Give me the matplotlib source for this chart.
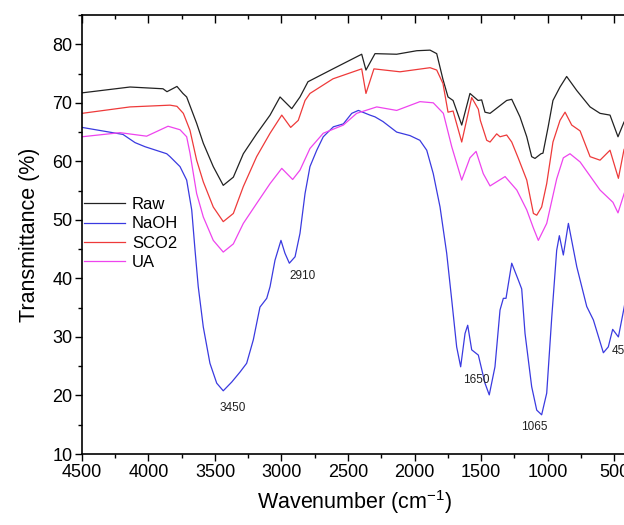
import matplotlib
matplotlib.use('Agg')
from matplotlib import pyplot as plt
from matplotlib.ticker import MultipleLocator

plt.rcParams['font.family'] = ['Liberation Sans', 'DejaVu Sans']
plt.rcParams['mathtext.default'] = 'regular'

# FTIR spectra (wavenumber, transmittance %)
raw_wn = [4500, 4139, 3891, 3861, 3786, 3741, 3713, 3688, 3638, 3588, 3513, 3438,
          3362, 3287, 3187, 3086, 3011, 2923, 2861, 2801, 2613, 2397, 2365, 2297,
          2134, 1983, 1883, 1833, 1786, 1748, 1710, 1645, 1583, 1522, 1495, 1470,
          1432, 1307, 1269, 1207, 1156, 1119, 1094, 1049, 1034, 995, 959, 906, 856,
          780, 680, 605, 530, 470, 425, 400]
raw_t = [71.7, 72.7, 72.4, 71.9, 72.8, 71.6, 71.0, 69.5, 66.5, 63.1, 59.1, 55.9,
         57.3, 61.3, 64.7, 67.9, 71.0, 69.0, 71.0, 73.6, 75.8, 78.3, 75.6, 78.4,
         78.3, 78.9, 79.0, 78.4, 74.0, 71.0, 70.4, 66.2, 71.6, 70.4, 70.5, 68.4,
         68.2, 70.4, 70.6, 67.6, 64.2, 60.8, 60.5, 61.3, 61.4, 65.9, 70.4, 72.7,
         74.5, 72.1, 69.3, 68.2, 67.9, 64.2, 66.7, 67.5]

naoh_wn = [4500, 4192, 4101, 4026, 3863, 3838, 3763, 3713, 3675, 3650, 3626, 3588,
           3538, 3487, 3438, 3374, 3312, 3262, 3212, 3162, 3111, 3086, 3049, 3004,
           2974, 2941, 2898, 2861, 2823, 2786, 2735, 2686, 2610, 2535, 2472, 2422,
           2335, 2297, 2237, 2134, 2034, 1960, 1908, 1859, 1808, 1758, 1720, 1683,
           1653, 1620, 1600, 1570, 1520, 1470, 1438, 1395, 1357, 1332, 1312, 1269,
           1219, 1194, 1169, 1119, 1081, 1044, 1006, 968, 931, 911, 881, 843, 780,
           705, 655, 580, 543, 510, 467, 425, 400]
naoh_t = [65.8, 64.6, 63.2, 62.5, 61.3, 60.8, 59.1, 56.8, 51.7, 44.8, 38.6, 31.7,
          25.5, 22.1, 20.8, 22.3, 24.0, 25.5, 29.5, 35.1, 36.6, 38.6, 43.1, 46.5,
          44.3, 42.6, 43.7, 47.7, 54.5, 59.1, 61.9, 64.2, 65.9, 66.4, 68.2, 68.7,
          67.9, 67.6, 66.8, 65.0, 64.4, 63.6, 61.9, 57.9, 52.2, 44.3, 36.3, 28.3,
          24.9, 30.6, 32.0, 27.8, 26.9, 22.1, 20.1, 24.9, 34.6, 36.6, 36.6, 42.6,
          39.7, 38.2, 30.6, 21.5, 17.5, 16.7, 20.4, 33.4, 44.8, 47.3, 44.0, 49.4,
          42.0, 35.2, 32.9, 27.3, 28.3, 31.3, 30.0, 34.9, 38.0]

sco2_wn = [4500, 4139, 3838, 3786, 3738, 3688, 3638, 3588, 3513, 3438, 3362, 3287,
           3187, 3086, 2998, 2931, 2874, 2823, 2786, 2613, 2397, 2365, 2305, 2109,
           1883, 1833, 1786, 1748, 1710, 1645, 1570, 1520, 1505, 1457, 1432, 1382,
           1357, 1307, 1269, 1219, 1156, 1106, 1081, 1044, 1006, 959, 906, 868, 818,
           755, 680, 605, 530, 467, 425, 400]
sco2_t = [68.2, 69.3, 69.6, 69.4, 68.2, 65.3, 60.2, 56.5, 52.2, 49.7, 51.1, 55.7,
          60.8, 64.8, 67.9, 65.8, 67.0, 70.4, 71.6, 74.1, 75.8, 71.6, 75.8, 75.3,
          76.0, 75.6, 73.3, 68.4, 68.6, 63.3, 70.9, 68.9, 67.0, 63.6, 63.3, 64.7,
          64.2, 64.5, 63.3, 60.5, 56.8, 51.1, 50.8, 52.2, 56.2, 63.3, 67.0, 68.4,
          66.2, 65.2, 60.8, 60.2, 61.9, 57.1, 62.0, 63.0]

ua_wn = [4500, 4214, 4014, 3853, 3763, 3713, 3688, 3638, 3588, 3513, 3438, 3362,
         3287, 3187, 3086, 2998, 2916, 2861, 2786, 2686, 2535, 2435, 2284, 2134,
         1959, 1859, 1783, 1720, 1645, 1583, 1537, 1483, 1432, 1319, 1231, 1156,
         1106, 1069, 1006, 931, 881, 831, 755, 605, 508, 470, 425, 400]
ua_t = [64.2, 64.9, 64.3, 66.0, 65.4, 64.2, 61.4, 54.5, 50.5, 46.5, 44.5, 45.9,
        49.4, 52.8, 56.2, 58.8, 56.9, 58.5, 62.2, 64.8, 66.2, 68.2, 69.3, 68.7,
        70.2, 70.0, 68.2, 62.5, 56.8, 60.6, 61.7, 57.9, 55.8, 57.4, 55.1, 51.7,
        48.6, 46.5, 49.4, 57.0, 60.6, 61.3, 59.9, 55.1, 53.0, 51.2, 54.4, 56.0]

peak_labels = ['3450', '2910', '1650', '1065', '450']
peak_x = [3365, 2838, 1537, 1098, 520]
peak_y = [17.9, 40.4, 22.6, 14.6, 27.6]


def main():
    fig = plt.figure(figsize=(6.24, 5.25), dpi=100)
    ax = fig.add_axes([0.1314, 0.1352, 0.8739, 0.8362])

    ax.plot(raw_wn, raw_t, color='#222222', lw=0.9, label='Raw')
    ax.plot(naoh_wn, naoh_t, color='#3a3ae0', lw=0.9, label='NaOH')
    ax.plot(sco2_wn, sco2_t, color='#ee3a3a', lw=0.9, label='SCO2')
    ax.plot(ua_wn, ua_t, color='#ee44ee', lw=0.9, label='UA')

    for txt, x, y in zip(peak_labels, peak_x, peak_y):
        ha = 'left' if txt == '450' else 'center'
        ax.text(x, y, txt, fontsize=8.5, ha=ha, va='center', color='#222222')

    ax.set_xlim(4500, 400)
    ax.set_ylim(10, 85)
    ax.xaxis.set_major_locator(MultipleLocator(500))
    ax.xaxis.set_minor_locator(MultipleLocator(250))
    ax.yaxis.set_major_locator(MultipleLocator(10))
    ax.yaxis.set_minor_locator(MultipleLocator(5))

    ax.tick_params(axis='both', which='major', direction='out', length=5,
                   width=1, labelsize=13, pad=2)
    ax.tick_params(axis='both', which='minor', direction='out', length=3, width=1)
    ax.tick_params(axis='x', which='both', top=True)
    # mirrored top ticks point into the plot
    for t in ax.xaxis.get_major_ticks():
        t.tick2line.set_marker(3)
        t.tick2line.set_markersize(6)
    for t in ax.xaxis.get_minor_ticks():
        t.tick2line.set_marker(3)
        t.tick2line.set_markersize(3)
    for sp in ax.spines.values():
        sp.set_linewidth(1.2)

    ax.set_xlabel('Wavenumber (cm$^{-1}$)', fontsize=15.5, labelpad=5)
    ax.set_ylabel('Transmittance (%)', fontsize=15.5, labelpad=9)

    ax.legend(loc='upper left', bbox_to_anchor=(0.003, 0.585), frameon=False,
              fontsize=12, handlelength=2.5, handletextpad=0.4,
              labelspacing=0.25, borderaxespad=0, borderpad=0)

    fig.savefig('out.png', dpi=100)


if __name__ == '__main__':
    main()
